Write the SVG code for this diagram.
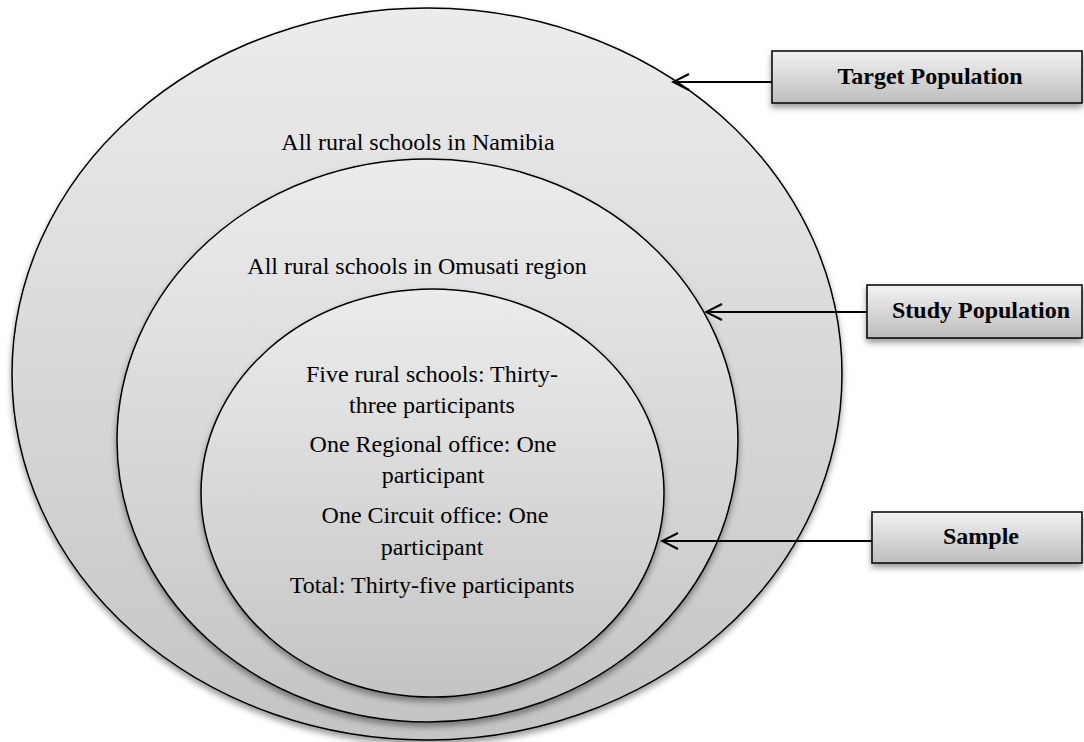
<svg xmlns="http://www.w3.org/2000/svg" width="1084" height="742" viewBox="0 0 1084 742">
<defs>
<linearGradient id="eg" x1="0" y1="0" x2="0" y2="1">
<stop offset="0" stop-color="#ececec"/>
<stop offset="1" stop-color="#c4c4c4"/>
</linearGradient>
<linearGradient id="bg" x1="0" y1="0" x2="0" y2="1">
<stop offset="0" stop-color="#f2f2f2"/>
<stop offset="1" stop-color="#bdbdbd"/>
</linearGradient>
<filter id="sh" x="-10%" y="-10%" width="120%" height="130%">
<feDropShadow dx="0" dy="4" stdDeviation="3" flood-color="#000" flood-opacity="0.4"/>
</filter>
<marker id="ah" viewBox="0 0 20 20" refX="18" refY="10" markerWidth="20" markerHeight="20" markerUnits="userSpaceOnUse" orient="auto">
<path d="M2,2 L18,10 L2,18" fill="none" stroke="#000" stroke-width="2"/>
</marker>
</defs>
<style>
.ell{fill:url(#eg);stroke:#000;stroke-width:1.5;filter:url(#sh)}
.box{fill:url(#bg);stroke:#000;stroke-width:1.5;filter:url(#sh)}
.t{font-family:"Liberation Serif","Times New Roman",serif;font-size:24px;fill:#000;text-anchor:middle}
.b{font-family:"Liberation Serif","Times New Roman",serif;font-size:24px;font-weight:bold;fill:#000;text-anchor:middle}
.c{stroke:#000;stroke-width:2;fill:none;marker-end:url(#ah)}
</style>
<g id="target-circle">
<ellipse class="ell" cx="427" cy="374" rx="415" ry="366"/>
<text class="t" x="418" y="150">All rural schools in Namibia</text>
</g>
<g id="study-circle">
<ellipse class="ell" cx="427.5" cy="440.5" rx="310.5" ry="281.5"/>
<text class="t" x="417" y="274">All rural schools in Omusati region</text>
</g>
<g id="sample-circle">
<ellipse class="ell" cx="432.5" cy="493" rx="231.5" ry="204"/>
<text class="t" x="432" y="382">Five rural schools: Thirty-</text>
<text class="t" x="432" y="413">three participants</text>
<text class="t" x="433" y="452">One Regional office: One</text>
<text class="t" x="433" y="483">participant</text>
<text class="t" x="435" y="523">One Circuit office: One</text>
<text class="t" x="432" y="555">participant</text>
<text class="t" x="432" y="593">Total: Thirty-five participants</text>
</g>
<g id="target-box">
<rect class="box" x="772" y="51" width="310" height="52"/>
<text class="b" x="930" y="84">Target Population</text>
</g>
<g id="study-box">
<rect class="box" x="867" y="285" width="215" height="53"/>
<text class="b" x="981" y="318">Study Population</text>
</g>
<g id="sample-box">
<rect class="box" x="872" y="512" width="210" height="51"/>
<text class="b" x="981" y="544">Sample</text>
</g>
<g id="connectors">
<line class="c" x1="772" y1="82" x2="673" y2="82"/>
<line class="c" x1="867" y1="312" x2="706" y2="312"/>
<line class="c" x1="872" y1="541" x2="662" y2="541"/>
</g>
</svg>
